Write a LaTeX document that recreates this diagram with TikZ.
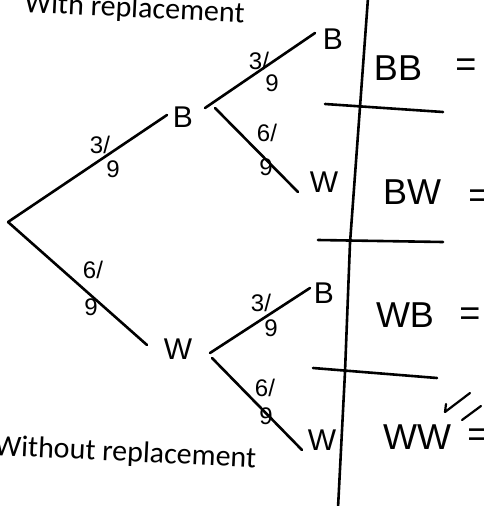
\documentclass[tikz,border=0pt]{standalone}
\usepackage{fontspec}
\setmainfont{Carlito}
\newfontfamily\handfont{Liberation Sans}
\begin{document}
\begin{tikzpicture}[x=1pt,y=-1pt,
  branch/.style={line width=2.6pt, line cap=round},
  rulestroke/.style={line width=2.6pt, line cap=round, line join=round},
  lbl/.style={font=\handfont\fontsize{30}{30}\selectfont, inner sep=0pt},
  tbl/.style={font=\handfont\fontsize{36}{36}\selectfont, inner sep=0pt},
  frc/.style={font=\handfont\fontsize{24}{24}\selectfont, inner sep=0pt},
  heading/.style={font=\fontsize{30}{30}\selectfont, inner sep=0pt, anchor=base west, rotate=-2.8}]
\useasboundingbox (0,0) rectangle (483,506);
\fill[white] (0,0) rectangle (483,506);

% headings
\node[heading] (withr) at (24,12) {With replacement};
\node[heading] (without) at (-6,455) {Without replacement};

% tree labels
\node[lbl] (B1) at (183,117) {B};
\node[lbl] (W1) at (178,349) {W};
\node[lbl] (BB) at (333,39) {B};
\node[lbl] (BW) at (324,182) {W};
\node[lbl] (WB) at (324,293) {B};
\node[lbl] (WW) at (322,440) {W};

% junction points
\coordinate (root) at (8,222);
\coordinate (b1in) at (167,115);
\coordinate (b1up) at (205,108);
\coordinate (b1dn) at (215,108);
\coordinate (bbend) at (315,33);
\coordinate (bwend) at (298,192);
\coordinate (w1in) at (147,345);
\coordinate (w1up) at (210,353);
\coordinate (w1dn) at (212,358);
\coordinate (wbend) at (310,288);
\coordinate (wwend) at (302,450);

% branches
\draw[branch] (root) -- (b1in);
\draw[branch] (root) -- (w1in);
\draw[branch] (b1up) -- (bbend);
\draw[branch] (b1dn) -- (bwend);
\draw[branch] (w1up) -- (wbend);
\draw[branch] (w1dn) -- (wwend);

% probabilities
\node[frc] (f1a) at (100,145) {3/};
\node[frc] (f1b) at (113,169) {9};
\node[frc] (f2a) at (93,270) {6/};
\node[frc] (f2b) at (91,307) {9};
\node[frc] (f3a) at (259,61) {3/};
\node[frc] (f3b) at (272,83) {9};
\node[frc] (f4a) at (267,133) {6/};
\node[frc] (f4b) at (266,167) {9};
\node[frc] (f5a) at (261,303) {3/};
\node[frc] (f5b) at (271,328) {9};
\node[frc] (f6a) at (265,388) {6/};
\node[frc] (f6b) at (266,416) {9};

% table
\draw[rulestroke] (368,-2) -- (360,107) -- (350,243) -- (345,372) -- (338,508);
\draw[rulestroke] (325,104) -- (443,112);
\draw[rulestroke] (318,240) -- (443,242);
\draw[rulestroke] (313,368) -- (437,378);

\node[tbl] (tBB) at (398,68) {BB};
\node[tbl] (tBW) at (412,192) {BW};
\node[tbl] (tWB) at (405,315) {WB};
\node[tbl] (tWW) at (417,437) {WW};
\node[tbl] (e1) at (466,68) {=};
\node[tbl] (e2) at (479,199) {=};
\node[tbl] (e3) at (470,317) {=};
\node[tbl] (e4) at (478,438) {=};

% check marks
\draw[rulestroke, line width=2.2pt] (446,404) -- (445,412) -- (470,393);
\draw[rulestroke, line width=2.2pt] (462,420) -- (481,406);
\end{tikzpicture}
\end{document}
